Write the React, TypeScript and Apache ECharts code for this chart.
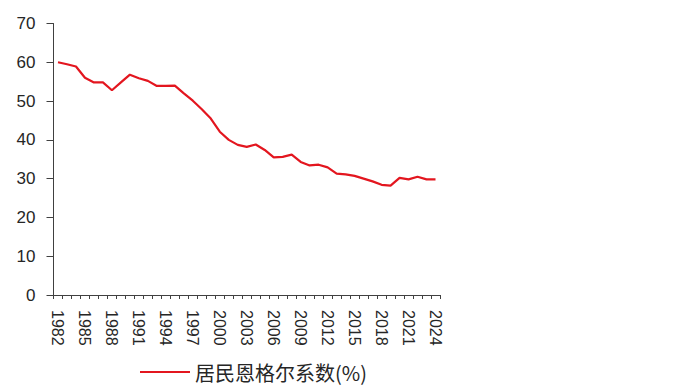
import React, { useEffect, useRef } from "react";
import * as echarts from "echarts";

const years: string[] = [];
for (let y = 1982; y <= 2024; y++) years.push(String(y));

const engel = [
  60.0, 59.5, 58.9, 56.0, 54.8, 54.8, 52.8, 54.8, 56.8, 55.9,
  55.2, 53.9, 53.9, 54.0, 52.0, 50.1, 47.9, 45.5, 42.1, 40.0,
  38.7, 38.2, 38.8, 37.4, 35.5, 35.6, 36.2, 34.3, 33.4, 33.6,
  32.9, 31.3, 31.1, 30.7, 30.0, 29.3, 28.4, 28.2, 30.2, 29.8,
  30.5, 29.8, 29.8,
];

const seriesName = "居民恩格尔系数(%)";
const textColor = "#262626";
const lineColor = "#E3161F";

export default function App() {
  const ref = useRef<HTMLDivElement>(null);
  useEffect(() => {
    if (!ref.current) return;
    const chart = echarts.init(ref.current, null, { renderer: "svg" });
    chart.setOption({
      animation: false,
      grid: { left: 53.5, right: 256, top: 23.5, bottom: 95, containLabel: false },
      legend: {
        data: [{ name: seriesName, icon: "rect" }],
        left: 140,
        top: 359,
        padding: 0,
        itemWidth: 50,
        itemHeight: 2,
        itemGap: 4,
        textStyle: { fontSize: 20, lineHeight: 26, color: textColor, fontFamily: "Noto Sans CJK SC" },
      },
      xAxis: {
        type: "category",
        data: years,
        boundaryGap: true,
        axisLine: { lineStyle: { color: "#404040", width: 1 } },
        axisTick: { show: true, interval: 0, length: 4, lineStyle: { color: "#404040" } },
        axisLabel: {
          interval: 2,
          rotate: -90,
          margin: 15,
          fontSize: 16,
          color: textColor,
          fontFamily: "Liberation Sans",
        },
      },
      yAxis: {
        type: "value",
        min: 0,
        max: 70,
        interval: 10,
        splitLine: { show: false },
        axisLine: { show: true, lineStyle: { color: "#404040", width: 1 } },
        axisTick: { show: true, length: 7, lineStyle: { color: "#404040" } },
        axisLabel: {
          margin: 18,
          fontSize: 17,
          color: textColor,
          fontFamily: "Liberation Sans",
        },
      },
      series: [
        {
          name: seriesName,
          type: "line",
          data: engel,
          symbol: "none",
          lineStyle: { color: lineColor, width: 2.2 },
          itemStyle: { color: lineColor },
        },
      ],
    });
    return () => chart.dispose();
  }, []);
  return <div ref={ref} style={{ width: 696, height: 390, position: "absolute", left: 0, top: 0 }} />;
}
